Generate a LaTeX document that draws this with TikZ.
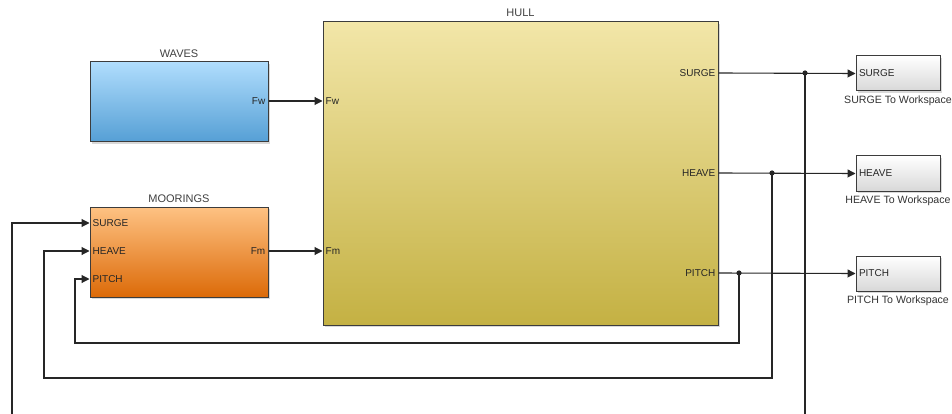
\documentclass[tikz,border=0pt]{standalone}
\usepackage{fontspec}
\setmainfont{Liberation Sans}
\usepackage{tikz}
\usetikzlibrary{positioning, arrows.meta, shadows}
\definecolor{wiregray}{HTML}{262626}
\definecolor{edgegray}{HTML}{3C3C3C}
\definecolor{wavetop}{HTML}{B0DDFD}
\definecolor{wavemid}{HTML}{A2D0F4}
\definecolor{wavebot}{HTML}{559FD5}
\definecolor{hulltop}{HTML}{F2E6A8}
\definecolor{hullmid}{HTML}{EEE1A0}
\definecolor{hullbot}{HTML}{C4B143}
\definecolor{moortop}{HTML}{FEC283}
\definecolor{moormid}{HTML}{F5AA62}
\definecolor{moorbot}{HTML}{DC6A08}
\definecolor{wsmid}{HTML}{F4F4F4}
\definecolor{wsbot}{HTML}{D8D8D8}
\tikzset{
    block/.style={rectangle, draw=edgegray, line width=1pt, minimum width=178pt, inner sep=0pt,
        drop shadow={shadow xshift=1.8pt, shadow yshift=-1.8pt, opacity=0.3}},
    waves/.style={block, top color=wavetop, middle color=wavemid, bottom color=wavebot, minimum height=80pt},
    moor/.style={block, top color=moortop, middle color=moormid, bottom color=moorbot, minimum height=90pt},
    hull/.style={block, top color=hulltop, middle color=hullmid, bottom color=hullbot, minimum width=395pt, minimum height=303pt},
    wsbox/.style={block, top color=white, middle color=wsmid, bottom color=wsbot, minimum width=84pt, minimum height=35pt,
        text width=78pt, align=left, inner xsep=3pt, font=\fontsize{10}{12}\selectfont, text=black!85},
    title/.style={font=\fontsize{11}{13}\selectfont, text=black!75, inner sep=1pt},
    port/.style={font=\fontsize{10}{12}\selectfont, text=black!85, inner sep=3pt},
    caption/.style={font=\fontsize{10.6}{12}\selectfont, text=black!80, inner sep=2pt},
    wire/.style={draw=wiregray, line width=1.1pt},
    sig/.style={wire, -{Triangle[length=8pt, width=8pt]}},
    tap/.style={fill=wiregray},
}
\begin{document}
\begin{tikzpicture}[x=1pt, y=-1pt]
    \useasboundingbox (0,0) rectangle (952,414);
    % blocks
    \node [waves] (waves) at (179,102) {};
    \node [moor] (moorings) at (179,252) {};
    \node [hull] (hull) at (520.5,173.5) {};
    \node [title, above=3pt of waves] {WAVES};
    \node [title, above=3pt of moorings] {MOORINGS};
    \node [title, above=4pt of hull] {HULL};
    % ports
    \node [port, anchor=east] (wfw) at (waves.east |- 0,101) {Fw};
    \node [port, anchor=east] (mfm) at (moorings.east |- 0,251) {Fm};
    \node [port, anchor=west] (ms) at (moorings.west |- 0,223) {SURGE};
    \node [port, anchor=west] (mh) at (moorings.west |- 0,251) {HEAVE};
    \node [port, anchor=west] (mp) at (moorings.west |- 0,279) {PITCH};
    \node [port, anchor=west] (hfw) at (hull.west |- 0,101) {Fw};
    \node [port, anchor=west] (hfm) at (hull.west |- 0,251) {Fm};
    \node [port, anchor=east] (hs) at (hull.east |- 0,73) {SURGE};
    \node [port, anchor=east] (hh) at (hull.east |- 0,173) {HEAVE};
    \node [port, anchor=east] (hp) at (hull.east |- 0,273) {PITCH};
    % to workspace
    \node [wsbox] (wss) at (898,73.5) {SURGE};
    \node [wsbox] (wsh) at (898,173.5) {HEAVE};
    \node [wsbox] (wsp) at (898,273.5) {PITCH};
    \node [caption, below=2pt of wss] {SURGE To Workspace};
    \node [caption, below=2pt of wsh] {HEAVE To Workspace};
    \node [caption, below=2pt of wsp] {PITCH To Workspace};
    % signal lines
    \draw [sig] (wfw.east) -- (hfw.west);
    \draw [sig] (mfm.east) -- (hfm.west);
    \draw [sig] (hs.east) -- (wss.west);
    \draw [sig] (hh.east) -- (wsh.west);
    \draw [sig] (hp.east) -- (wsp.west);
    % feedback to moorings
    \coordinate (surgetap) at (805,73);
    \coordinate (heavetap) at (772,173);
    \coordinate (pitchtap) at (739,273);
    \coordinate (surgeloop) at (12,440);
    \coordinate (heaveloop) at (44,378);
    \coordinate (pitchloop) at (75,343);
    \draw [sig] (surgetap) |- (surgeloop) |- (ms.west);
    \draw [sig] (heavetap) |- (heaveloop) |- (mh.west);
    \draw [sig] (pitchtap) |- (pitchloop) |- (mp.west);
    \foreach \t in {surgetap, heavetap, pitchtap}
        \fill [tap] (\t) circle (2.6pt);
\end{tikzpicture}
\end{document}
